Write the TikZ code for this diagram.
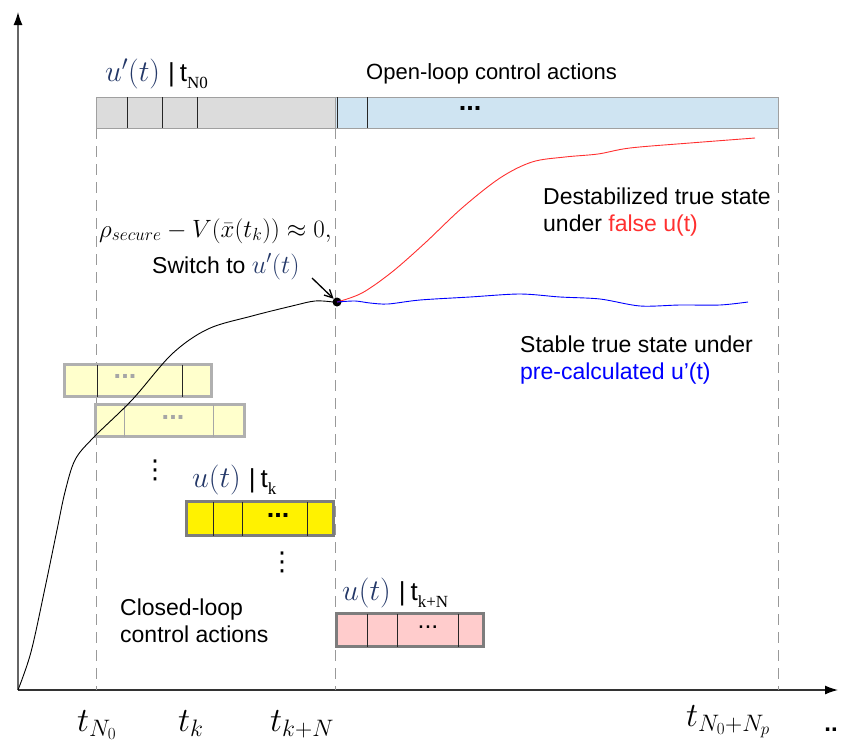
\documentclass[tikz,border=0pt]{standalone}
\usepackage{fix-cm}
\usepackage[no-math]{fontspec}
\setmainfont{Liberation Sans}
\newfontfamily\serifrm{Liberation Serif}
\newfontfamily\symfont{DejaVu Sans}
\usetikzlibrary{arrows.meta,calc}

\definecolor{mathblue}{RGB}{36,56,104}
\definecolor{greyfill}{RGB}{220,220,220}
\definecolor{greyedge}{RGB}{160,160,160}
\definecolor{bluefill}{RGB}{207,228,242}
\definecolor{paleyellow}{RGB}{255,255,204}
\definecolor{paleedge}{RGB}{176,176,176}
\definecolor{darkedge}{RGB}{125,125,125}
\definecolor{pinkfill}{RGB}{255,204,204}
\definecolor{falsered}{RGB}{255,48,48}
\definecolor{truepath}{RGB}{0,0,255}

% label of an action sequence: u(t) | t_<index>
\newcommand\seqlabel[2]{{\fontsize{30}{30}\selectfont\color{mathblue}$#1$}\hspace{8pt}{\fontsize{26}{26}\selectfont|\hspace{5pt}t}{\serifrm\fontsize{17}{17}\selectfont\raisebox{-7pt}{#2}}}

\tikzset{
  body/.style={font=\fontsize{23}{27}\selectfont, align=left, inner sep=0pt},
  guide/.style={draw=black!40, line width=0.8pt, dash pattern=on 11pt off 7pt},
  seqbox/.style={anchor=north west, inner sep=0pt, outer sep=0pt},
  thickbox/.style={seqbox, line width=3pt},
  divider/.style={line width=1pt, black!85},
  softdiv/.style={line width=1pt, black!35},
  dotsn/.style={font=\fontsize{27}{27}\selectfont\bfseries, inner sep=0pt},
  vdotsn/.style={font=\symfont\fontsize{26}{26}\selectfont, inner sep=0pt},
  tlabel/.style={font=\fontsize{34}{34}\selectfont, anchor=base west, inner sep=0pt},
}

\begin{document}
\begin{tikzpicture}[x=1pt,y=-1pt]
\useasboundingbox (0,0) rectangle (841,744);

% axes
\coordinate (origin) at (18,690);
\coordinate (ytip) at (18,12);
\coordinate (xtip) at (838,690);
\draw[line width=1.3pt, black!60, -{Latex[color=black,length=13pt,width=9pt]}] (origin) -- (ytip);
\draw[line width=1.3pt, black!80, -{Latex[color=black,length=13pt,width=9pt]}] (origin) -- (xtip);

% dashed time guides
\coordinate (g1t) at (96,128);  \coordinate (g1b) at (96,690);
\coordinate (g2t) at (335,128); \coordinate (g2b) at (335,690);
\coordinate (g3t) at (778,128); \coordinate (g3b) at (778,690);
\draw[guide] (g1t) -- (g1b);
\draw[guide] (g2t) -- (g2b);
\draw[guide] (g3t) -- (g3b);

% open-loop action sequence
\node[seqbox, draw=greyedge, fill=greyfill, line width=1pt, minimum width=239pt, minimum height=31pt] (olgrey) at (96,97) {};
\node[seqbox, draw=greyedge, fill=bluefill, line width=1pt, minimum width=443pt, minimum height=31pt] (olblue) at (335,97) {};
\foreach \dx in {31,66,101}
  \draw[divider] ($(olgrey.north west)+(\dx,0)$) -- ($(olgrey.south west)+(\dx,0)$);
\foreach \dx in {2,32}
  \draw[divider] ($(olblue.north west)+(\dx,0)$) -- ($(olblue.south west)+(\dx,0)$);
\node[dotsn] (oldots) at (470,108) {...};
\node[anchor=base west, inner sep=0pt] (ollabel) at (105,81) {\seqlabel{u'(t)}{N0}};
\node[body, font=\fontsize{22}{26}\selectfont, anchor=base west] (oltext) at (366,79) {Open-loop control actions};

% earlier closed-loop sequences
\node[thickbox, draw=paleedge, fill=paleyellow, minimum width=147pt, minimum height=32pt] (pale1) at (64.5,364.5) {};
\draw[divider] (97,364.5) -- (97,396.5);
\draw[divider] (182,364.5) -- (182,396.5);
\node[dotsn, text=black!35] (pale1dots) at (125,376) {...};
\node[thickbox, draw=paleedge, fill=paleyellow, minimum width=149pt, minimum height=32pt] (pale2) at (95.5,404.5) {};
\draw[softdiv] (124,404.5) -- (124,436.5);
\draw[softdiv] (213,404.5) -- (213,436.5);
\node[dotsn, text=black!35] (pale2dots) at (173,417) {...};

% state trajectory before the switch
\node[circle, fill=black, inner sep=0pt, minimum size=9pt] (switch) at (337,302) {};
\draw[line width=0.9pt] plot[smooth, tension=0.55] coordinates {
  (18,690) (31,652) (45,588) (57,530) (65,492) (75,460) (93,438)
  (132,400) (172,354) (208,329) (252,316) (292,306) (315,301) (333,302)};

% trajectories after the switch
\draw[line width=0.9pt, falsered] plot[smooth, tension=0.55] coordinates {
  (337,302) (362,293) (392,272) (425,243) (462,208) (500,178) (532,162)
  (565,157) (598,154) (630,148) (690,143) (755,138)};
\draw[line width=0.9pt, truepath] plot[smooth, tension=0.5] coordinates {
  (337,302) (355,301) (370,303) (388,304) (420,300) (470,297) (520,294) (560,297)
  (600,299) (640,306) (680,305) (720,305) (748,302)};

% current closed-loop sequence
\node[vdotsn] (vd1) at (155,470) {⋮};
\node[anchor=base west, inner sep=0pt] (curlabel) at (192,487) {\seqlabel{u(t)}{k}};
\node[thickbox, draw=darkedge, fill=yellow, minimum width=147pt, minimum height=34pt] (cur) at (186.5,501.5) {};
\foreach \x in {213,242,307}
  \draw[divider] (\x,501.5) -- (\x,535.5);
\node[dotsn] (curdots) at (278,515) {...};

% next closed-loop sequence
\node[vdotsn] (vd2) at (282,562) {⋮};
\node[anchor=base west, inner sep=0pt] (nextlabel) at (342,600) {\seqlabel{u(t)}{k+N}};
\node[thickbox, draw=darkedge, fill=pinkfill, minimum width=147pt, minimum height=33pt] (nxt) at (336.5,613.5) {};
\foreach \x in {367,397,458}
  \draw[divider] (\x,613.5) -- (\x,646.5);
\node[inner sep=0pt, font=\fontsize{25}{25}\selectfont] (nxtdots) at (428,627) {...};

% switching condition
\node[anchor=base west, inner sep=0pt, font=\fontsize{25}{25}\selectfont] (cond) at (99,237) {$\rho_{secure}-V(\bar{x}(t_k))\approx 0,$};
\node[anchor=base west, inner sep=0pt, font=\fontsize{23}{23}\selectfont] (swtext) at (152,273) {Switch to {\fontsize{26}{26}\selectfont\color{mathblue}$u'(t)$}};
\coordinate (swtail) at (312,278);
\draw[line width=1.3pt, -{Straight Barb[length=8pt,width=8pt]}] (swtail) -- (switch);

% explanatory texts
\node[body, anchor=base west] (destab) at (543,231) {Destabilized true state\\under \textcolor{falsered}{false u(t)}};
\node[body, anchor=base west] (stable) at (520,379) {Stable true state under\\\textcolor{truepath}{pre-calculated u'(t)}};
\node[body, anchor=base west] (closed) at (120,642) {Closed-loop\\control actions};

% time axis labels
\node[tlabel] (tn0) at (77,731) {$t_{N_0}$};
\node[tlabel] (tk) at (178,731) {$t_k$};
\node[tlabel] (tkn) at (270,731) {$t_{k+N}$};
\node[tlabel] (tnp) at (686,726) {$t_{N_0+N_p}$};
\node[dotsn, font=\fontsize{24}{24}\selectfont\bfseries] (more) at (831,730) {..};
\end{tikzpicture}
\end{document}
